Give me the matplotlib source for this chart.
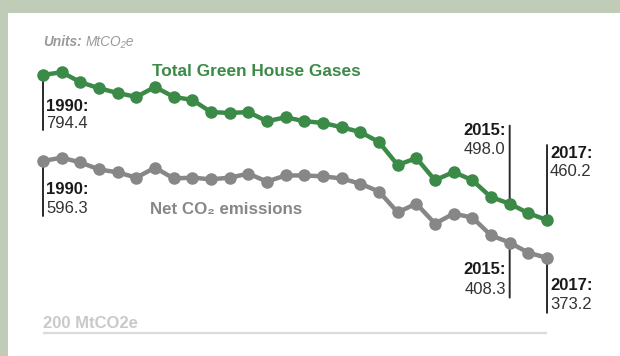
import matplotlib.pyplot as plt
from matplotlib.patches import Rectangle

plt.rcParams['font.family'] = ['Liberation Sans', 'DejaVu Sans']

# Emissions, MtCO2e
years = list(range(1990, 2018))
ghg = [794.4, 801, 778, 764, 753, 744, 767, 744, 737, 709, 707, 709, 688, 697,
       688, 684, 674, 663, 640, 587, 603, 552, 571, 552, 513, 498.0, 476, 460.2]
co2 = [596.3, 604, 593, 577, 570, 558, 581, 556, 558, 554, 558, 567, 549, 563,
       563, 561, 556, 544, 526, 478, 498, 452, 475, 466, 425, 408.3, 385, 373.2]
baseline = 200

green = '#3c8a48'
grey = '#878787'
ink = '#2a2a2a'

fig = plt.figure(figsize=(6.2, 3.56), dpi=100, facecolor='#c1ccb8')
W, H = 620, 356
ax = fig.add_axes([8 / W, 0, 612 / W, 343 / H])
ax.set_xlim(1988.125, 2020.91)
ax.set_ylim(147, 937.3)
ax.axis('off')
ax.add_patch(Rectangle((0, 0), 1, 1, transform=ax.transAxes,
                       facecolor='white', edgecolor='none', zorder=0))

# baseline
ax.plot([years[0], years[-1]], [baseline, baseline], color='#dadada', lw=1.6,
        solid_capstyle='butt', zorder=1)
ax.annotate('200 MtCO2e', xy=(years[0], baseline), xytext=(0, 9 * 0.72),
            textcoords='offset points', fontsize=12, fontweight='bold',
            color='#c9c9c9', ha='left', va='center')

# series
ax.plot(years, ghg, color=green, lw=3.2, marker='o', ms=8, zorder=4)
ax.plot(years, co2, color=grey, lw=3.2, marker='o', ms=8, zorder=4)


def callout(i, vals, line_px, lab_px, val_px, side):
    # offsets in pixels, positive = up
    x, y = years[i], vals[i]
    ax.annotate('', xy=(x, y), xytext=(0, line_px * 0.72),
                textcoords='offset points',
                arrowprops=dict(arrowstyle='-', color=ink, lw=1.4,
                                shrinkA=0, shrinkB=0), zorder=3)
    dx = 3 if side == 'right' else -4
    ha = 'left' if side == 'right' else 'right'
    ax.annotate(f'{x}:', xy=(x, y), xytext=(dx * 0.72, lab_px * 0.72),
                textcoords='offset points', fontsize=12, fontweight='bold',
                color='#1a1a1a', ha=ha, va='center')
    ax.annotate(f'{vals[i]:.1f}', xy=(x, y), xytext=(dx * 0.72, val_px * 0.72),
                textcoords='offset points', fontsize=12,
                color='#333333', ha=ha, va='center')


last = len(years) - 1
i2015 = years.index(2015)
callout(0, ghg, -55, -31, -48, 'right')
callout(0, co2, -55, -29, -48, 'right')
callout(i2015, ghg, 78, 73, 54.5, 'left')
callout(last, ghg, 75, 66.5, 48.5, 'right')
callout(i2015, co2, -55, -27, -46.5, 'left')
callout(last, co2, -55, -27.5, -47, 'right')

# series labels
fig.text(152 / W, 1 - 72 / H, 'Total Green House Gases', fontsize=12.4,
         fontweight='bold', color=green, ha='left', va='center')
fig.text(150 / W, 1 - 209 / H, 'Net CO\u2082 emissions', fontsize=12.2,
         fontweight='bold', color=grey, ha='left', va='center')

# units
fig.text(43 / W, 1 - 42 / H, 'Units:', fontsize=9.8, fontweight='bold',
         fontstyle='italic', color='#9a9a9a', ha='left', va='center')
fig.text(86 / W, 1 - 42 / H, 'MtCO\u2082e', fontsize=9.8,
         fontstyle='italic', color='#9a9a9a', ha='left', va='center')

fig.savefig('out.png', dpi=100, facecolor=fig.get_facecolor())
